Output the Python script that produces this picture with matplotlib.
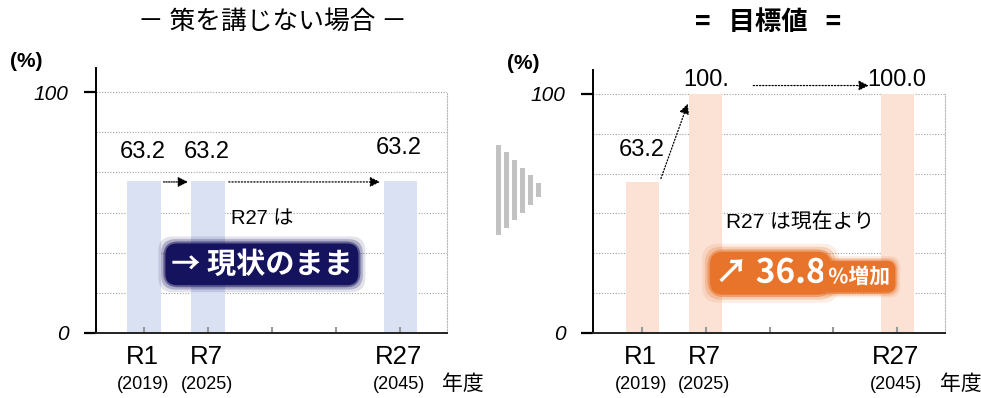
import matplotlib
matplotlib.use("Agg")
import matplotlib.pyplot as plt
import matplotlib.patheffects as pe
from matplotlib.transforms import blended_transform_factory

plt.rcParams['font.family'] = ['Noto Sans CJK JP', 'DejaVu Sans']

# data
slots = [0, 1, 2, 3, 4]
bar_slots = [0, 1, 4]
bar_names = ["R1", "R7", "R27"]
bar_years = ["(2019)", "(2025)", "(2045)"]
no_action = [63.2, 63.2, 63.2]
target = [63.2, 100.0, 100.0]
target_labels = ["63.2", "100.", "100.0"]
no_action_labels = ["63.2", "63.2", "63.2"]
grid_vals = [100 / 6 * i for i in range(1, 7)]
chevron_h = [1.0, 0.84, 0.67, 0.5, 0.33, 0.16]

NUM = ['Liberation Sans', 'Noto Sans CJK JP']
CJK = ['Noto Sans CJK JP', 'DejaVu Sans']

fig = plt.figure(figsize=(9.81, 3.98), dpi=100)
axL = fig.add_axes([96 / 981, 65 / 398, 351 / 981, 265 / 398])
axR = fig.add_axes([593 / 981, 65 / 398, 352 / 981, 263 / 398])


def base(ax, xlim):
    ax.set_xlim(*xlim)
    ax.set_ylim(0, 110)
    for v in grid_vals:
        ax.axhline(v, color="#a0a0a0", lw=0.8, ls=(0, (1, 1.5)), zorder=0)
    ax.spines["top"].set_visible(False)
    ax.spines["right"].set_color("#b8b8b8")
    ax.spines["right"].set_linestyle((0, (1, 1.5)))
    ax.spines["right"].set_bounds(0, 100)
    ax.spines["left"].set_linewidth(1.4)
    ax.spines["bottom"].set_linewidth(1.4)
    ax.spines["bottom"].set_color("#222222")
    ax.set_yticks([0, 100])
    ax.set_yticklabels(["0", "100"], family=NUM, style="italic", fontsize=15)
    ax.tick_params(axis="y", direction="out", length=9, width=1.6, pad=11)
    ax.set_xticks(slots)
    ax.set_xticklabels([])
    ax.tick_params(axis="x", direction="in", length=4, width=1.5, color="#999999")
    tr = blended_transform_factory(ax.transData, ax.transAxes)
    for s, n, y in zip(bar_slots, bar_names, bar_years):
        ax.annotate(n, (s, 0), xycoords=tr, xytext=(-1, -17), textcoords="offset points",
                    ha="center", va="center", fontsize=18.5, family=NUM)
        ax.annotate(y, (s, 0), xycoords=tr, xytext=(-1, -37), textcoords="offset points",
                    ha="center", va="center", fontsize=13, family=NUM)
    ax.annotate("(%)", (0, 1), xycoords="axes fraction", xytext=(-50, -2),
                textcoords="offset points", ha="center", va="bottom", fontsize=15,
                fontweight="bold", family=NUM, annotation_clip=False)
    ax.annotate("年度", (1, 0), xycoords="axes fraction", xytext=(-3.6, -37),
                textcoords="offset points", ha="left", va="center", fontsize=15,
                family=CJK, annotation_clip=False)


def glow_text(ax, x, y, s, col, size, ha="center", pad=0.25):
    # soft blurred box behind white bold text
    for extra, a in [(0.24, 0.12), (0.15, 0.25), (0.07, 0.5)]:
        ax.text(x, y, s, ha=ha, va="center", fontsize=size, fontweight="bold",
                color="none", family=CJK, zorder=3,
                bbox=dict(boxstyle=f"round,pad={pad + extra},rounding_size=0.5",
                          fc=col, ec="none", alpha=a))
    ax.text(x, y, s, ha=ha, va="center", fontsize=size, fontweight="bold",
            color="white", family=CJK, zorder=4,
            path_effects=[pe.withStroke(linewidth=4, foreground=col)],
            bbox=dict(boxstyle=f"round,pad={pad},rounding_size=0.4", fc=col, ec="none"))


base(axL, (-0.75, 4.73))
base(axR, (-0.77, 4.75))

# left panel
axL.bar(bar_slots, no_action, width=0.52, color="#d9e1f2", zorder=1)
lab_y_left = [75.1, 75.1, 76.8]
for s, ly, t in zip(bar_slots, lab_y_left, no_action_labels):
    axL.text(s - 0.02, ly, t, ha="center", va="center", fontsize=17, family=NUM)
axL.annotate("", xy=(0.73, 62.7), xytext=(0.26, 62.7),
             arrowprops=dict(arrowstyle="-|>", ls=(0, (1, 1)), color="black", lw=0.9,
                             mutation_scale=15))
axL.annotate("", xy=(3.73, 62.7), xytext=(1.28, 62.7),
             arrowprops=dict(arrowstyle="-|>", ls=(0, (1, 1.5)), color="black", lw=0.9,
                             mutation_scale=15))
axL.text(1.84, 47.5, "R27 は", ha="center", va="center", fontsize=14.5, family=NUM)
glow_text(axL, 1.84, 28.5, "→ 現状のまま", "#15125e", 21, pad=0.2)

# right panel
axR.bar(bar_slots, target, width=0.52, color="#fbe2d5", zorder=1)
lab_y_right = [76.6, 105.9, 105.9]
for s, ly, t in zip(bar_slots, lab_y_right, target_labels):
    axR.text(s, ly, t, ha="center", va="center", fontsize=17, family=NUM)
axR.annotate("", xy=(0.73, 97), xytext=(0.28, 63.5),
             arrowprops=dict(arrowstyle="-|>", ls=(0, (1, 1.5)), color="black", lw=0.9,
                             mutation_scale=15))
axR.annotate("", xy=(3.6, 103.5), xytext=(1.7, 103.5),
             arrowprops=dict(arrowstyle="-|>", ls=(0, (1, 1.5)), color="black", lw=0.9,
                             mutation_scale=15), annotation_clip=False)
axR.text(2.48, 46.5, "R27 は現在より", ha="center", va="center", fontsize=15, family=NUM)
glow_text(axR, 2.88, 25, "↗ 36.8", "#e8742c", 24, ha="right", pad=0.15)
glow_text(axR, 2.92, 23.5, "%増加", "#e8742c", 15, ha="left", pad=0.25)

# titles
fig.text(272 / 981, 1 - 22 / 398, "－ 策を講じない場合 －", ha="center", va="center",
         fontsize=18.5, family=CJK)
fig.text(768 / 981, 1 - 23 / 398, "=   目標値   =", ha="center", va="center",
         fontsize=19, fontweight="bold", family=CJK)

# chevron between panels
axC = fig.add_axes([495 / 981, 163 / 398, 52 / 981, 90 / 398])
xs = list(range(len(chevron_h)))
axC.bar(xs, chevron_h, bottom=[-h / 2 for h in chevron_h], width=0.6, color="#c2c2c2")
axC.set_xlim(-0.4, 6.0)
axC.set_ylim(-0.5, 0.5)
axC.axis("off")

fig.savefig("out.png", dpi=100)
